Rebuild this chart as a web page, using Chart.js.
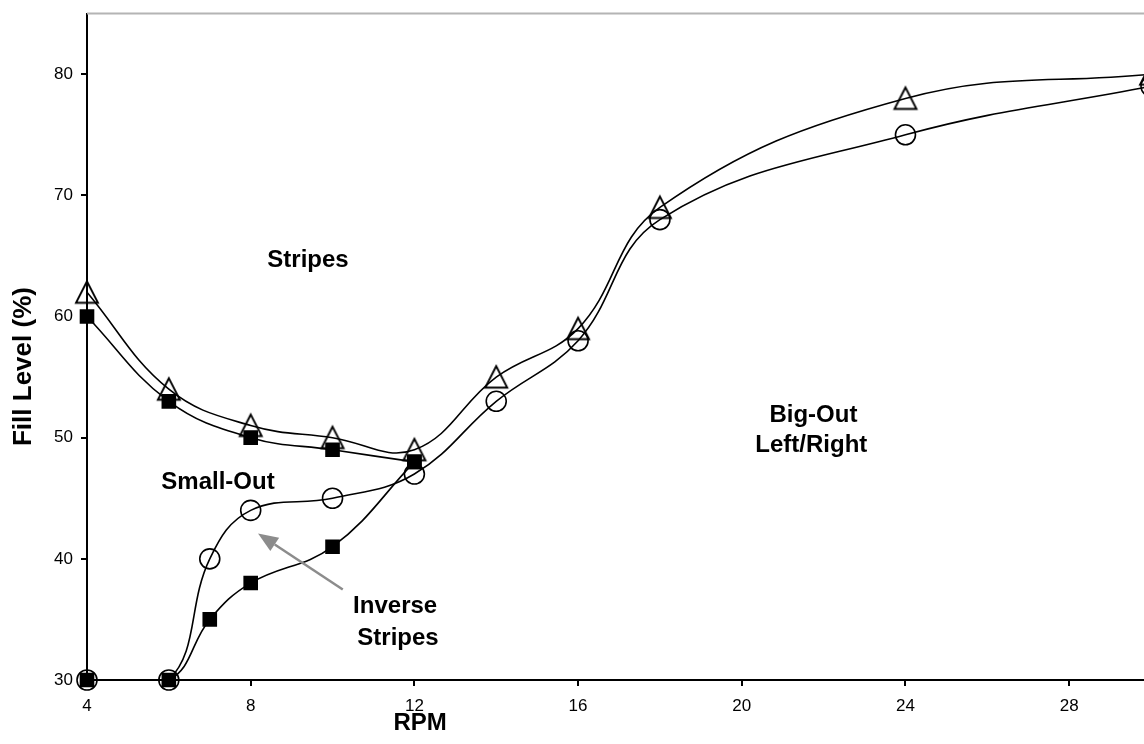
<!DOCTYPE html>
<html><head><meta charset="utf-8">
<script src="https://cdn.jsdelivr.net/npm/chart.js@4.4.1/dist/chart.umd.min.js"></script>
<style>
html,body{margin:0;padding:0;background:#fff;overflow:hidden;width:1144px;height:744px}
#wrap{position:absolute;left:0;top:0;width:1180px;height:744px}
</style>
</head><body><div id="wrap"><canvas id="c"></canvas></div>
<script>
// ---- data ----
const rpmTri = [4, 6, 8, 10, 12, 14, 16, 18, 24, 30];
const fillTri = [62, 54, 51, 50, 49, 55, 59, 69, 78, 80];
const rpmCirc = [4, 6, 7, 8, 10, 12, 14, 16, 18, 24, 30];
const fillCirc = [30, 30, 40, 44, 45, 47, 53, 58, 68, 75, 79];
const rpmSqUpper = [4, 6, 8, 10, 12];
const fillSqUpper = [60, 53, 50, 49, 48];
const rpmSqLower = [4, 6, 7, 8, 10, 12];
const fillSqLower = [30, 30, 35, 38, 41, 48];
const xTicks = [4, 8, 12, 16, 20, 24, 28];
const yTicks = [30, 40, 50, 60, 70, 80];
const regionLabels = ['Stripes', 'Small-Out', 'Big-Out', 'Left/Right', 'Inverse', 'Stripes'];
const regionX = [9.4, 7.2, 21.75, 21.7, 11.53, 11.6];
const regionY = [64.1, 45.73, 51.28, 48.8, 35.49, 32.88];
const arrowFrom = [10.25, 37.47];
const arrowTo = [8.18, 42.1];
const xTitle = 'RPM';
const yTitle = 'Fill Level (%)';

const FONT = '"Liberation Sans", Arial, Helvetica, sans-serif';
const pts = (xs, ys) => xs.map((v, i) => ({x: v, y: ys[i]}));

// open triangle marker image
const triImg = document.createElement('canvas');
triImg.width = 28; triImg.height = 28;
(function () {
  const g = triImg.getContext('2d');
  g.strokeStyle = '#000'; g.lineWidth = 1.9; g.lineJoin = 'miter';
  g.beginPath();
  g.moveTo(14, 3); g.lineTo(3, 24.5); g.lineTo(25, 24.5); g.closePath();
  g.stroke();
})();

const base = {
  borderColor: '#000', borderWidth: 1.6, tension: 0.4, fill: false, clip: false,
  pointBorderColor: '#000', pointBorderWidth: 1.6
};

const annot = {
  id: 'annot',
  beforeDatasetsDraw(chart) {
    const {ctx, chartArea} = chart;
    ctx.save();
    ctx.strokeStyle = '#b4b4b4';
    ctx.lineWidth = 2;
    ctx.beginPath();
    ctx.moveTo(chartArea.left, chartArea.top);
    ctx.lineTo(chartArea.right + 40, chartArea.top);
    ctx.stroke();
    ctx.restore();
  },
  afterDraw(chart) {
    const {ctx, scales: {x, y}} = chart;
    ctx.save();
    ctx.fillStyle = '#000';
    ctx.font = 'bold 24px ' + FONT;
    ctx.textAlign = 'center';
    ctx.textBaseline = 'alphabetic';
    regionLabels.forEach((t, i) => {
      ctx.fillText(t, x.getPixelForValue(regionX[i]), y.getPixelForValue(regionY[i]));
    });
    // arrow
    const x1 = x.getPixelForValue(arrowFrom[0]), y1 = y.getPixelForValue(arrowFrom[1]);
    const x2 = x.getPixelForValue(arrowTo[0]), y2 = y.getPixelForValue(arrowTo[1]);
    const ang = Math.atan2(y2 - y1, x2 - x1);
    const hl = 20, hw = 8;
    const bx = x2 - hl * Math.cos(ang), by = y2 - hl * Math.sin(ang);
    ctx.strokeStyle = '#8c8c8c';
    ctx.fillStyle = '#8c8c8c';
    ctx.lineWidth = 2.5;
    ctx.beginPath();
    ctx.moveTo(x1, y1);
    ctx.lineTo(bx, by);
    ctx.stroke();
    ctx.beginPath();
    ctx.moveTo(x2, y2);
    ctx.lineTo(bx + hw * Math.sin(ang), by - hw * Math.cos(ang));
    ctx.lineTo(bx - hw * Math.sin(ang), by + hw * Math.cos(ang));
    ctx.closePath();
    ctx.fill();
    // axis titles
    ctx.fillStyle = '#000';
    ctx.font = 'bold 24px ' + FONT;
    ctx.textAlign = 'center';
    ctx.textBaseline = 'middle';
    ctx.fillText(xTitle, x.getPixelForValue(12.14), 723);
    ctx.save();
    ctx.translate(24, y.getPixelForValue(55.87));
    ctx.rotate(-Math.PI / 2);
    ctx.font = 'bold 26px ' + FONT;
    ctx.fillText(yTitle, 0, 0);
    ctx.restore();
    ctx.restore();
  }
};

const zeroPad = s => { s.paddingTop = 0; s.paddingBottom = 0; s.paddingLeft = 0; s.paddingRight = 0; };

new Chart(document.getElementById('c'), {
  type: 'line',
  data: {
    datasets: [
      Object.assign({}, base, {label: 'Upper boundary', data: pts(rpmTri, fillTri),
        pointStyle: triImg, pointRadius: 12}),
      Object.assign({}, base, {label: 'Small/Big-Out boundary', data: pts(rpmCirc, fillCirc),
        pointStyle: 'circle', pointRadius: 10, pointBackgroundColor: 'rgba(0,0,0,0)'}),
      Object.assign({}, base, {label: 'Stripes lower', data: pts(rpmSqUpper, fillSqUpper),
        pointStyle: 'rect', pointRadius: 9.2, pointBackgroundColor: '#000'}),
      Object.assign({}, base, {label: 'Inverse stripes', data: pts(rpmSqLower, fillSqLower),
        pointStyle: 'rect', pointRadius: 9.2, pointBackgroundColor: '#000'})
    ]
  },
  options: {
    responsive: true, maintainAspectRatio: false, animation: false, events: [],
    layout: {padding: {top: 13, right: 29, left: 0, bottom: 0}},
    plugins: {legend: {display: false}, tooltip: {enabled: false}},
    scales: {
      x: {
        type: 'linear', min: 4, max: 30,
        afterBuildTicks: s => { s.ticks = xTicks.map(v => ({value: v})); },
        afterFit: s => { s.height = 64; zeroPad(s); },
        ticks: {font: {family: FONT, size: 17}, color: '#000', padding: 10, maxRotation: 0, autoSkip: false},
        grid: {drawOnChartArea: false, color: '#000', lineWidth: 2, tickLength: 6},
        border: {color: '#000', width: 2},
        title: {display: false}
      },
      y: {
        type: 'linear', min: 30, max: 85,
        afterBuildTicks: s => { s.ticks = yTicks.map(v => ({value: v})); },
        afterFit: s => { s.width = 87; zeroPad(s); },
        ticks: {font: {family: FONT, size: 17}, color: '#000', padding: 8, autoSkip: false},
        grid: {drawOnChartArea: false, color: '#000', lineWidth: 2, tickLength: 6},
        border: {color: '#000', width: 2},
        title: {display: false}
      }
    }
  },
  plugins: [annot]
});
</script>
</body></html>
